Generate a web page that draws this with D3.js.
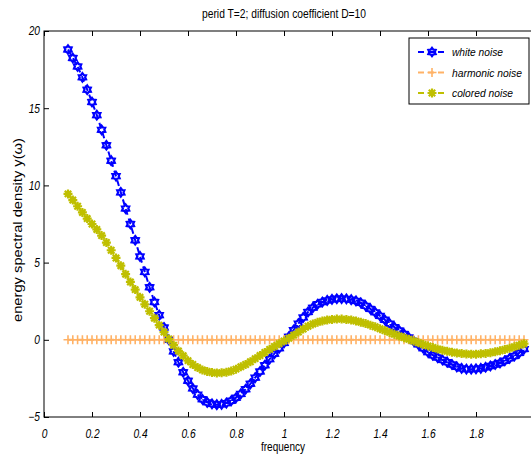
<!DOCTYPE html>
<html>
<head>
<meta charset="utf-8">
<script src="https://cdn.jsdelivr.net/npm/d3@7"></script>
<style>
  body { margin: 0; background: #fff; }
  svg { display: block; }
  text { font-family: "Liberation Sans", Arial, sans-serif; fill: #000; }
</style>
</head>
<body>
<div id="chart"></div>
<script>
// Data
const freq = d3.range(96).map(i => +(0.1 + 0.02 * i).toFixed(2));

const whiteNoise = [
    18.8, 18.25, 17.7, 17.0, 16.2, 15.4, 14.55, 13.6, 12.6, 11.6,
    10.6, 9.55, 8.5, 7.5, 6.45, 5.4, 4.4, 3.4, 2.45, 1.6,
    0.8, 0.0, -0.75, -1.45, -2.1, -2.65, -3.15, -3.55, -3.85, -4.05,
    -4.15, -4.2, -4.18, -4.1, -3.95, -3.75, -3.5, -3.2, -2.85, -2.45,
    -2.05, -1.65, -1.25, -0.9, -0.55, -0.2, 0.2, 0.63, 1.05, 1.45,
    1.8, 2.08, 2.3, 2.45, 2.55, 2.62, 2.66, 2.67, 2.65, 2.6,
    2.52, 2.4, 2.2, 2.0, 1.78, 1.55, 1.3, 1.05, 0.82, 0.6,
    0.38, 0.15, -0.08, -0.3, -0.55, -0.8, -1.0, -1.15, -1.3, -1.45,
    -1.6, -1.75, -1.85, -1.9, -1.9, -1.88, -1.85, -1.78, -1.7, -1.6,
    -1.5, -1.36, -1.2, -1.05, -0.85, -0.6
];

const harmonicNoise = [
    0, 0, 0, 0, 0, 0, 0, 0, 0, 0, 0, 0, 0, 0, 0, 0, 0, 0, 0, 0,
    0, 0, 0, 0, 0, 0, 0, 0, 0, 0, 0, 0, 0, 0, 0, 0, 0, 0, 0, 0,
    0, 0, 0, 0, 0, 0, 0, 0, 0, 0, 0, 0, 0, 0, 0, 0, 0, 0, 0, 0,
    0, 0, 0, 0, 0, 0, 0, 0, 0, 0, 0, 0, 0, 0, 0, 0, 0, 0, 0, 0,
    0, 0, 0, 0, 0, 0, 0, 0, 0, 0, 0, 0, 0, 0, 0, 0
];

const coloredNoise = [
    9.45, 9.05, 8.65, 8.25, 7.85, 7.5, 7.15, 6.75, 6.3, 5.8,
    5.3, 4.8, 4.25, 3.75, 3.25, 2.75, 2.3, 1.85, 1.4, 0.95,
    0.5, 0.05, -0.35, -0.72, -1.03, -1.35, -1.6, -1.8, -1.95, -2.05,
    -2.12, -2.15, -2.14, -2.1, -2.02, -1.9, -1.75, -1.6, -1.42, -1.22,
    -1.02, -0.82, -0.62, -0.43, -0.25, -0.08, 0.1, 0.3, 0.5, 0.7,
    0.88, 1.02, 1.13, 1.22, 1.28, 1.32, 1.34, 1.34, 1.32, 1.28,
    1.22, 1.14, 1.05, 0.95, 0.84, 0.72, 0.6, 0.48, 0.36, 0.25,
    0.14, 0.03, -0.08, -0.19, -0.3, -0.4, -0.5, -0.59, -0.67, -0.74,
    -0.8, -0.85, -0.89, -0.92, -0.93, -0.93, -0.91, -0.88, -0.84, -0.78,
    -0.71, -0.63, -0.55, -0.45, -0.35, -0.25
];

const xTicks = [0, 0.2, 0.4, 0.6, 0.8, 1, 1.2, 1.4, 1.6, 1.8];
const yTicks = [-5, 0, 5, 10, 15, 20];

const seriesList = [
    { name: 'white noise', values: whiteNoise, color: '#0000ff', marker: 'hexagram', textLen: 51 },
    { name: 'harmonic noise', values: harmonicNoise, color: '#ffb266', marker: 'plus', textLen: 70 },
    { name: 'colored noise', values: coloredNoise, color: '#bfbf00', marker: 'asterisk', textLen: 61 }
];

// Layout
const width = 531, height = 463;
const plotLeft = 44, plotTop = 31, plotBottom = 417;

const x = d3.scaleLinear().domain([0, 2.05]).range([plotLeft, plotLeft + 240 * 2.05]);
const y = d3.scaleLinear().domain([-5, 20]).range([plotBottom, plotTop]);

const svg = d3.select('#chart').append('svg')
    .attr('width', width)
    .attr('height', height);

svg.append('defs').append('clipPath').attr('id', 'plot-clip')
    .append('rect')
    .attr('x', plotLeft).attr('y', plotTop)
    .attr('width', x.range()[1] - plotLeft).attr('height', plotBottom - plotTop);

// Marker shapes
function markerPath(type) {
    if (type === 'hexagram') {
        const pts = [];
        for (let k = 0; k < 12; k++) {
            const a = -Math.PI / 2 + k * Math.PI / 6;
            const r = k % 2 === 0 ? 4.2 : 2.7;
            pts.push([r * Math.cos(a), r * Math.sin(a)]);
        }
        return 'M' + pts.map(p => p[0].toFixed(2) + ',' + p[1].toFixed(2)).join('L') + 'Z';
    }
    if (type === 'plus') {
        return 'M-4.5,0L4.5,0M0,-4.5L0,4.5';
    }
    // asterisk
    return 'M-4.5,0L4.5,0M0,-4.5L0,4.5M-3.2,-3.2L3.2,3.2M-3.2,3.2L3.2,-3.2';
}

function markerWidth(type) {
    return type === 'plus' ? 1.6 : 2.2;
}

const plot = svg.append('g').attr('clip-path', 'url(#plot-clip)');

const line = d3.line()
    .x(d => x(d[0]))
    .y(d => y(d[1]));

seriesList.forEach(s => {
    const pts = freq.map((f, i) => [f, s.values[i]]);
    plot.append('path')
        .datum(pts)
        .attr('fill', 'none')
        .attr('stroke', s.color)
        .attr('stroke-width', 2)
        .attr('stroke-dasharray', '6,4')
        .attr('d', line);
    plot.selectAll(null)
        .data(pts)
        .enter()
        .append('path')
        .attr('transform', d => 'translate(' + x(d[0]) + ',' + y(d[1]) + ')')
        .attr('d', markerPath(s.marker))
        .attr('fill', 'none')
        .attr('stroke', s.color)
        .attr('stroke-width', markerWidth(s.marker));
});

// Frame
svg.append('rect')
    .attr('x', plotLeft).attr('y', plotTop)
    .attr('width', x.range()[1] - plotLeft).attr('height', plotBottom - plotTop)
    .attr('fill', 'none')
    .attr('stroke', '#000')
    .attr('stroke-width', 1);

// Axes (ticks point inward, like MATLAB)
const xAxis = svg.append('g')
    .attr('transform', 'translate(0,' + plotBottom + ')')
    .call(d3.axisBottom(x).tickValues(xTicks).tickSizeInner(-5).tickSizeOuter(0).tickPadding(10)
        .tickFormat(d => d3.format('~g')(d)));
const xTop = svg.append('g')
    .attr('transform', 'translate(0,' + plotTop + ')')
    .call(d3.axisTop(x).tickValues(xTicks).tickSizeInner(-5).tickSizeOuter(0).tickFormat(''));
const yAxis = svg.append('g')
    .attr('transform', 'translate(' + plotLeft + ',0)')
    .call(d3.axisLeft(y).tickValues(yTicks).tickSizeInner(-5).tickSizeOuter(0).tickPadding(4));

[xAxis, xTop, yAxis].forEach(g => {
    g.select('.domain').remove();
    g.selectAll('.tick line').attr('stroke', '#000');
    g.selectAll('.tick text')
        .attr('font-size', 12)
        .attr('font-style', 'italic')
        .attr('fill', '#000')
        .style('font-family', '"Liberation Sans", Arial, sans-serif')
        .each(function() {
            // narrow the digits a little, like the MATLAB font
            const w = this.getComputedTextLength();
            d3.select(this).attr('textLength', w * 0.85).attr('lengthAdjust', 'spacingAndGlyphs');
        });
});
xAxis.selectAll('.tick text').attr('dy', '0.9em');

// Title and axis labels (MATLAB's narrow font: squeeze to the reference widths)
svg.append('text')
    .attr('x', 284).attr('y', 18)
    .attr('text-anchor', 'middle')
    .attr('font-size', 12)
    .attr('textLength', 164)
    .attr('lengthAdjust', 'spacingAndGlyphs')
    .text('perid T=2; diffusion coefficient D=10');

svg.append('text')
    .attr('x', 283).attr('y', 451)
    .attr('text-anchor', 'middle')
    .attr('font-size', 12)
    .attr('textLength', 44)
    .attr('lengthAdjust', 'spacingAndGlyphs')
    .text('frequency');

svg.append('text')
    .attr('transform', 'translate(22,230) rotate(-90)')
    .attr('text-anchor', 'middle')
    .attr('font-size', 12)
    .attr('textLength', 184)
    .attr('lengthAdjust', 'spacingAndGlyphs')
    .text('energy spectral density y(ω)');

// Legend
const legend = svg.append('g');
legend.append('rect')
    .attr('x', 409).attr('y', 38)
    .attr('width', 120).attr('height', 66)
    .attr('fill', '#fff')
    .attr('stroke', '#000')
    .attr('stroke-width', 1);

seriesList.forEach((s, i) => {
    const row = legend.append('g').attr('transform', 'translate(0,' + (52 + i * 20.5) + ')');
    row.append('line')
        .attr('x1', 418).attr('x2', 447)
        .attr('stroke', s.color)
        .attr('stroke-width', 2)
        .attr('stroke-dasharray', '6,4');
    row.append('path')
        .attr('transform', 'translate(432,0)')
        .attr('d', markerPath(s.marker))
        .attr('fill', 'none')
        .attr('stroke', s.color)
        .attr('stroke-width', markerWidth(s.marker));
    row.append('text')
        .attr('x', 452).attr('y', 4)
        .attr('font-size', 11.5)
        .attr('font-style', 'italic')
        .attr('textLength', s.textLen)
        .attr('lengthAdjust', 'spacingAndGlyphs')
        .text(s.name);
});
</script>
</body>
</html>
